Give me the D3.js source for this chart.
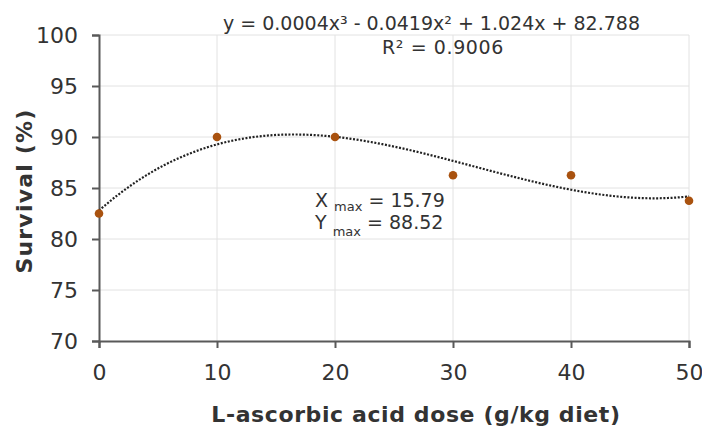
<!DOCTYPE html>
<html>
<head>
<meta charset="utf-8">
<script src="https://cdn.jsdelivr.net/npm/d3@7"></script>
<style>
  body { margin: 0; background: #fff; }
  text { font-family: "DejaVu Sans", Verdana, sans-serif; fill: #333; }
</style>
</head>
<body>
<script>
// data
var doses = [0, 10, 20, 30, 40, 50];
var survival = [82.5, 90, 90, 86.25, 86.25, 83.75];
var xTicks = [0, 10, 20, 30, 40, 50];
var yTicks = [70, 75, 80, 85, 90, 95, 100];
var eqText = "y = 0.0004x³ - 0.0419x² + 1.024x + 82.788";
var r2Text = "R² = 0.9006";

var W = 702, H = 427;
var svg = d3.select("body").append("svg")
    .attr("width", W)
    .attr("height", H);

var x = d3.scaleLinear().domain([0, 50]).range([99, 689]);
var y = d3.scaleLinear().domain([70, 100]).range([341, 35]);

// grid
svg.append("g").selectAll("line.v")
    .data(xTicks.slice(1))
    .enter().append("line")
    .attr("x1", d => x(d)).attr("x2", d => x(d))
    .attr("y1", y(70)).attr("y2", y(100))
    .attr("stroke", "#e2e2e2").attr("stroke-width", 1);
svg.append("g").selectAll("line.h")
    .data(yTicks.slice(1))
    .enter().append("line")
    .attr("x1", x(0)).attr("x2", x(50))
    .attr("y1", d => y(d)).attr("y2", d => y(d))
    .attr("stroke", "#e2e2e2").attr("stroke-width", 1);

// axes
var xAxis = svg.append("g")
    .attr("transform", "translate(0," + y(70) + ")")
    .call(d3.axisBottom(x).tickValues(xTicks).tickSize(7).tickPadding(16));
var yAxis = svg.append("g")
    .attr("transform", "translate(" + x(0) + ",0)")
    .call(d3.axisLeft(y).tickValues(yTicks).tickSize(7).tickPadding(14));
[xAxis, yAxis].forEach(function(g) {
  g.select(".domain").attr("stroke", "#595959").attr("stroke-width", 2);
  g.selectAll(".tick line").attr("stroke", "#595959").attr("stroke-width", 2);
  g.selectAll(".tick text")
      .style("font-family", "DejaVu Sans, Verdana, sans-serif")
      .style("font-size", "22px")
      .attr("fill", "#333");
});

// cubic least squares fit of the data
function polyfit(xs, ys, deg) {
  var n = deg + 1, A = [], b = [];
  for (var i = 0; i < n; i++) {
    A.push([]);
    for (var j = 0; j < n; j++) A[i].push(d3.sum(xs, v => Math.pow(v, i + j)));
    b.push(d3.sum(xs, (v, k) => ys[k] * Math.pow(v, i)));
  }
  for (var c = 0; c < n; c++) {
    for (var r = c + 1; r < n; r++) {
      var f = A[r][c] / A[c][c];
      for (var k = c; k < n; k++) A[r][k] -= f * A[c][k];
      b[r] -= f * b[c];
    }
  }
  var co = new Array(n).fill(0);
  for (var r2 = n - 1; r2 >= 0; r2--) {
    var s = b[r2];
    for (var k2 = r2 + 1; k2 < n; k2++) s -= A[r2][k2] * co[k2];
    co[r2] = s / A[r2][r2];
  }
  return co;
}
var coef = polyfit(doses, survival, 3);
function fit(v) { return coef[0] + coef[1] * v + coef[2] * v * v + coef[3] * v * v * v; }

var curve = d3.range(0, 50.01, 0.5).map(v => [v, fit(v)]);
svg.append("path")
    .datum(curve)
    .attr("fill", "none")
    .attr("stroke", "#222")
    .attr("stroke-width", 2.2)
    .attr("stroke-dasharray", "2,1.6")
    .attr("d", d3.line().x(d => x(d[0])).y(d => y(d[1])).curve(d3.curveBasis));

// points
svg.append("g").selectAll("circle")
    .data(doses)
    .enter().append("circle")
    .attr("cx", d => x(d))
    .attr("cy", (d, i) => y(survival[i]))
    .attr("r", 4.3)
    .attr("fill", "#a9520f");

// annotations
svg.append("text").attr("x", 223).attr("y", 30)
    .style("font-size", "19px").text(eqText);
svg.append("text").attr("x", 382).attr("y", 54)
    .style("font-size", "19px").style("letter-spacing", "0.6px").text(r2Text);

var lx = svg.append("text").attr("x", 315).attr("y", 207).style("font-size", "19px");
lx.append("tspan").text("X ");
lx.append("tspan").attr("dy", 4).style("font-size", "13px").text("max");
lx.append("tspan").attr("dy", -4).text(" = 15.79");
var ly = svg.append("text").attr("x", 315).attr("y", 229).style("font-size", "19px");
ly.append("tspan").text("Y ");
ly.append("tspan").attr("dy", 7).style("font-size", "13px").text("max");
ly.append("tspan").attr("dy", -7).text(" = 88.52");

// axis titles
svg.append("text")
    .attr("x", 416).attr("y", 422)
    .attr("text-anchor", "middle")
    .style("font-size", "22px").style("font-weight", "bold")
    .style("letter-spacing", "0.6px")
    .attr("fill", "#262626")
    .text("L-ascorbic acid dose (g/kg diet)");
svg.append("text")
    .attr("transform", "translate(32,191) rotate(-90)")
    .attr("text-anchor", "middle")
    .style("font-size", "22px").style("font-weight", "bold")
    .style("letter-spacing", "1.2px")
    .attr("fill", "#262626")
    .text("Survival (%)");
</script>
</body>
</html>
